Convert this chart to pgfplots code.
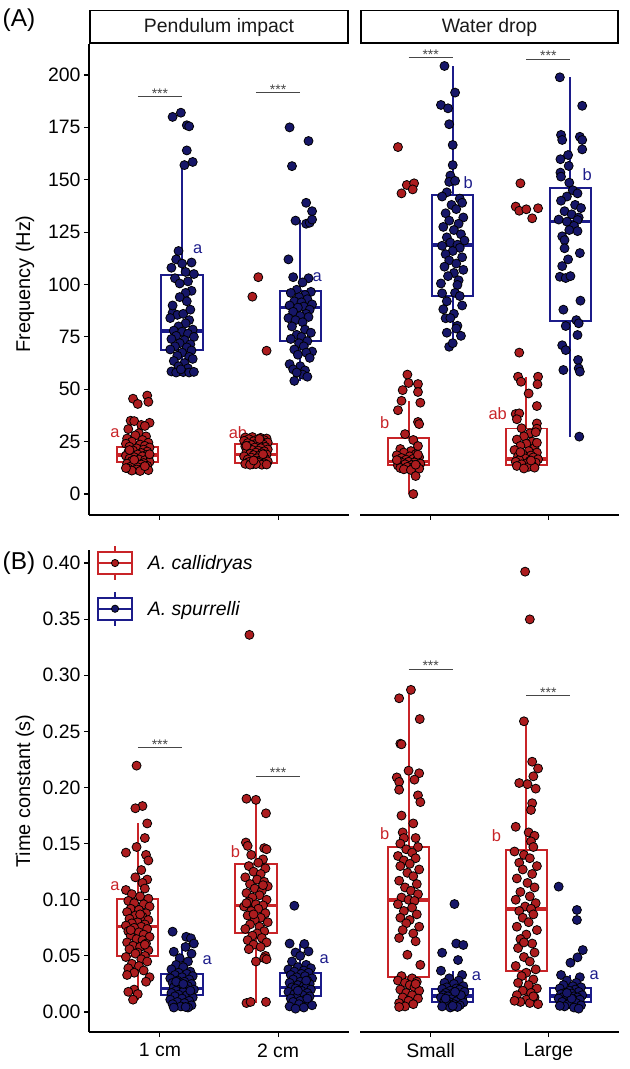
\documentclass[border=0pt]{standalone}
\usepackage{fontspec}
\setmainfont{Liberation Sans}
\usepackage{pgfplots}
\pgfplotsset{compat=1.18}
\usepackage{pgfplotstable}

\definecolor{redline}{RGB}{200,36,40}
\definecolor{redpt}{RGB}{172,28,30}
\definecolor{blueline}{RGB}{28,28,138}
\definecolor{bluept}{RGB}{22,22,104}
\definecolor{sigcol}{RGB}{70,70,70}

% ---------------- Frequency (Hz), jittered observations: dx = horizontal jitter ----------------
\pgfplotstableread{
dx y
0.08 47.0
-0.04 45.5
0.09 44.0
0.00 43.0
-0.06 35.0
-0.03 34.8
0.10 34.0
0.03 33.0
0.06 32.5
-0.08 31.0
0.01 29.0
-0.02 28.0
0.07 27.5
-0.09 26.5
0.04 25.8
-0.05 25.0
0.09 24.5
-0.10 24.0
0.02 23.6
0.06 23.0
-0.07 22.6
0.10 22.2
-0.01 21.8
0.05 21.2
-0.04 20.8
0.08 20.3
-0.08 20.0
0.03 19.6
-0.06 19.2
0.00 18.9
0.07 18.6
-0.10 18.3
0.04 18.0
-0.03 17.6
0.09 17.2
-0.07 16.9
0.01 16.5
0.06 16.1
-0.05 15.8
0.10 15.4
-0.02 15.1
0.05 14.8
-0.09 14.5
0.03 14.1
-0.04 13.8
0.08 13.5
-0.06 13.1
0.00 12.8
0.07 12.5
-0.08 12.2
0.04 12.0
-0.01 11.7
0.09 11.4
-0.05 11.2
0.02 11.0
-0.10 12.4
0.06 13.3
-0.03 16.3
0.10 19.0
-0.07 21.0
}\fCalA

\pgfplotstableread{
dx y
-0.08 180.0
-0.01 182.0
0.04 176.0
0.06 175.5
0.04 164.0
0.09 158.5
0.02 157.0
-0.03 116.0
-0.05 112.0
0.00 110.0
0.08 110.5
-0.09 108.0
0.03 106.0
0.10 105.0
-0.06 103.0
0.05 101.5
-0.02 100.5
0.08 97.0
0.03 96.0
-0.08 86.5
-0.04 85.5
0.01 86.0
-0.10 84.0
0.06 83.0
0.03 81.5
-0.03 80.0
0.09 78.5
-0.07 78.0
0.00 77.5
0.05 76.5
-0.05 75.5
0.10 75.0
-0.09 74.0
0.02 73.5
-0.02 72.0
0.07 71.5
-0.06 70.5
0.04 70.0
-0.10 69.0
0.08 68.5
0.00 67.5
-0.04 66.0
0.06 65.5
0.09 64.5
-0.07 63.5
0.02 62.5
-0.03 61.0
0.05 60.0
-0.09 58.5
-0.05 58.0
0.01 58.2
0.06 58.0
0.10 58.3
-0.01 59.5
0.04 92.0
-0.08 90.0
0.07 88.0
-0.02 94.0
}\fSpuA

\pgfplotstableread{
dx y
0.02 103.5
-0.03 94.2
0.09 68.4
-0.09 27.0
-0.03 27.2
0.04 26.8
0.09 26.5
-0.06 26.2
0.01 26.0
0.07 25.7
-0.10 25.4
-0.02 25.2
0.05 25.0
0.10 24.6
-0.07 24.3
0.00 24.0
0.06 23.7
-0.04 23.4
0.03 23.1
-0.09 22.8
0.08 22.5
-0.01 22.2
0.04 21.9
-0.06 21.6
0.10 21.3
-0.03 21.0
0.02 20.7
0.07 20.4
-0.08 20.1
0.00 19.8
0.05 19.5
-0.05 19.2
0.09 18.9
-0.02 18.6
0.03 18.3
-0.10 18.0
0.06 17.7
-0.04 17.4
0.01 17.1
0.08 16.8
-0.07 16.5
0.04 16.2
-0.01 15.9
0.10 15.6
-0.06 15.3
0.02 15.0
0.07 14.7
-0.09 14.4
-0.03 14.2
0.05 14.0
0.00 14.3
0.09 14.1
-0.05 14.0
0.03 26.3
-0.08 23.0
0.06 19.0
-0.02 16.0
}\fCalB

\pgfplotstableread{
dx y
-0.09 175.0
0.07 168.5
-0.07 156.5
0.05 139.0
0.10 135.0
-0.04 130.5
0.05 129.0
0.08 129.5
0.10 131.0
-0.10 112.0
-0.06 103.5
0.07 103.0
0.02 101.0
-0.03 97.5
0.09 96.5
-0.08 96.0
0.04 95.0
-0.01 94.0
0.06 93.0
-0.05 92.0
0.01 91.5
0.10 90.5
-0.09 90.0
0.03 89.5
-0.02 89.0
0.08 88.0
-0.06 87.0
0.05 86.0
0.00 85.0
-0.10 84.0
0.07 84.5
-0.04 83.0
0.02 82.0
-0.07 80.0
0.04 78.5
0.09 77.0
-0.03 76.0
0.01 75.0
-0.08 74.0
0.06 73.0
-0.01 72.0
0.03 70.5
-0.05 69.0
0.10 68.0
0.05 67.5
-0.02 66.5
0.08 65.0
-0.09 62.0
0.00 61.0
-0.06 59.5
0.04 59.0
0.02 57.0
-0.03 58.0
0.06 56.0
-0.05 54.0
}\fSpuB

\pgfplotstableread{
dx y
-0.09 165.6
-0.015 147.5
0.047 148.3
0.035 145.4
-0.06 143.5
-0.01 57.0
0.00 53.0
0.08 52.5
-0.05 49.6
0.08 48.7
-0.06 44.5
0.10 43.6
-0.09 40.0
0.08 34.4
0.09 33.4
-0.03 28.6
0.04 25.8
0.08 22.9
-0.07 21.5
0.02 20.5
-0.04 19.8
0.06 19.0
-0.10 18.5
0.01 18.0
0.09 17.6
-0.06 17.2
0.04 16.8
-0.02 16.4
0.07 16.0
-0.08 15.7
0.00 15.4
0.05 15.1
-0.05 14.8
0.10 14.5
-0.03 14.2
0.03 13.9
-0.09 13.6
0.07 13.3
-0.01 13.0
0.04 12.7
-0.07 12.4
0.09 12.1
-0.04 11.8
0.02 11.5
0.06 14.0
-0.10 16.2
0.08 18.8
0.06 8.6
0.04 0.0
}\fCalC

\pgfplotstableread{
dx y
-0.07 204.3
0.02 191.6
-0.10 185.7
-0.04 184.1
-0.03 176.5
0.00 166.6
0.00 157.0
-0.02 152.0
-0.03 149.0
0.02 149.5
-0.05 144.0
-0.09 142.0
0.06 141.0
0.08 139.0
-0.01 138.0
0.03 136.0
-0.06 134.0
0.09 132.0
-0.03 130.5
0.05 129.0
-0.08 127.5
0.01 126.0
0.07 124.0
-0.05 122.5
0.10 121.0
-0.02 120.0
0.04 119.0
-0.09 118.5
0.06 117.5
0.00 116.0
-0.06 114.5
0.08 113.0
-0.03 111.5
0.03 110.0
-0.07 108.5
0.09 107.0
0.01 105.5
-0.04 104.0
0.05 102.0
-0.10 100.5
0.04 99.8
0.02 96.0
-0.09 95.8
0.06 94.5
-0.05 92.0
0.08 90.0
-0.08 88.2
0.01 86.0
-0.06 83.9
-0.02 84.0
0.04 80.3
0.03 79.0
-0.05 77.0
0.07 75.5
-0.03 70.3
0.00 72.0
}\fSpuC

\pgfplotstableread{
dx y
-0.05 148.3
-0.09 137.2
-0.06 135.2
0.00 135.9
0.05 131.6
0.10 136.4
-0.06 67.5
-0.07 56.0
0.10 56.0
-0.045 53.6
0.095 52.4
0.02 48.0
0.09 42.0
-0.09 38.2
-0.06 38.5
-0.08 35.7
0.09 33.7
-0.04 31.4
0.09 31.2
0.03 29.0
0.08 29.5
-0.02 27.5
-0.08 26.0
0.05 25.0
0.00 24.0
-0.05 23.0
0.07 22.0
-0.10 21.0
0.02 20.5
0.09 19.8
-0.03 19.0
0.04 18.4
-0.07 18.0
0.06 17.5
-0.01 17.0
0.10 16.6
-0.06 16.2
0.03 15.8
-0.09 15.4
0.08 15.0
0.00 14.6
-0.04 14.2
0.05 13.8
-0.08 13.4
0.02 13.0
0.07 12.6
-0.02 12.2
0.04 16.0
-0.05 20.0
0.09 24.5
}\fCalD

\pgfplotstableread{
dx y
-0.09 198.9
0.10 185.3
-0.08 171.4
-0.07 169.0
0.08 170.5
0.10 169.0
0.10 164.5
-0.085 159.8
-0.02 161.8
-0.015 156.6
-0.085 153.4
-0.08 151.5
-0.01 148.6
0.02 145.0
0.06 143.5
-0.03 142.0
-0.08 140.0
0.04 138.0
0.09 136.5
-0.05 135.0
0.01 133.5
0.07 132.0
-0.10 131.0
0.06 130.8
-0.03 130.0
0.03 128.0
-0.01 126.0
0.06 125.5
-0.07 123.0
-0.05 121.2
-0.05 117.3
0.08 115.0
-0.02 112.0
-0.07 108.8
-0.09 103.7
-0.04 103.1
0.00 104.0
0.085 92.3
-0.06 88.0
0.05 83.0
-0.04 80.2
0.07 81.5
0.06 75.9
-0.07 71.0
-0.04 68.7
0.065 64.0
-0.06 59.2
0.07 60.0
0.08 58.4
0.075 27.4
}\fSpuD

% ---------------- Time constant (s) ----------------
\pgfplotstableread{
dx y
-0.01 0.2195
0.04 0.1835
-0.02 0.1815
0.08 0.168
0.06 0.155
-0.01 0.147
-0.10 0.142
0.07 0.140
0.09 0.135
0.03 0.1265
-0.02 0.120
0.08 0.118
0.04 0.115
-0.10 0.1087
0.06 0.110
-0.05 0.105
0.02 0.103
0.09 0.101
-0.08 0.099
-0.03 0.097
0.05 0.096
0.10 0.094
-0.06 0.092
0.01 0.091
-0.09 0.089
0.07 0.088
-0.02 0.086
0.04 0.085
-0.07 0.083
0.09 0.082
0.00 0.080
-0.05 0.079
0.06 0.078
-0.10 0.077
0.03 0.076
-0.03 0.075
0.08 0.074
-0.08 0.072
0.01 0.071
0.05 0.069
-0.06 0.068
0.10 0.067
-0.01 0.065
0.04 0.064
-0.09 0.062
0.07 0.061
-0.04 0.059
0.02 0.058
-0.07 0.056
0.09 0.055
0.00 0.053
-0.02 0.052
0.06 0.050
-0.10 0.049
0.03 0.047
0.08 0.045
-0.05 0.043
0.01 0.041
-0.08 0.039
0.05 0.037
-0.03 0.035
-0.09 0.033
0.10 0.031
0.07 0.027
-0.03 0.020
-0.08 0.018
0.00 0.016
-0.04 0.011
0.06 0.060
-0.06 0.073
0.02 0.087
}\tCalA

\pgfplotstableread{
dx y
-0.08 0.0716
0.035 0.067
0.075 0.0657
0.10 0.061
-0.07 0.0537
0.03 0.058
0.08 0.052
-0.02 0.048
0.05 0.045
-0.05 0.042
0.01 0.040
-0.09 0.038
0.07 0.036
-0.03 0.035
0.04 0.034
-0.06 0.033
0.09 0.032
0.00 0.031
-0.10 0.030
0.06 0.029
-0.04 0.028
0.02 0.027
-0.08 0.026
0.08 0.025
-0.01 0.024
0.05 0.023
-0.07 0.022
0.03 0.021
-0.02 0.0205
0.10 0.020
-0.05 0.019
0.01 0.018
-0.09 0.017
0.07 0.016
-0.03 0.0155
0.04 0.015
-0.06 0.014
0.09 0.013
0.00 0.012
-0.10 0.011
0.06 0.010
-0.04 0.009
0.02 0.008
-0.08 0.007
0.08 0.006
-0.01 0.005
0.05 0.004
-0.07 0.004
0.03 0.0045
-0.05 0.027
0.07 0.019
0.01 0.025
}\tSpuA

\pgfplotstableread{
dx y
-0.055 0.336
-0.08 0.190
0.00 0.189
0.085 0.177
-0.085 0.151
-0.07 0.148
0.07 0.146
0.09 0.145
0.06 0.136
-0.04 0.140
0.02 0.133
-0.06 0.130
0.08 0.128
-0.02 0.125
0.04 0.123
-0.09 0.120
0.01 0.118
0.07 0.116
-0.05 0.114
0.10 0.112
-0.01 0.110
0.05 0.108
-0.08 0.106
0.03 0.104
-0.03 0.102
0.09 0.100
-0.06 0.098
0.00 0.096
0.06 0.095
-0.10 0.094
0.02 0.092
-0.04 0.090
0.08 0.088
-0.07 0.086
0.04 0.084
-0.01 0.082
0.10 0.080
-0.05 0.078
0.03 0.076
-0.09 0.074
0.07 0.072
0.01 0.070
-0.03 0.068
0.05 0.066
-0.07 0.064
0.09 0.062
-0.02 0.060
0.04 0.058
-0.06 0.056
0.08 0.050
0.00 0.045
0.07 0.048
0.09 0.047
-0.08 0.008
-0.045 0.009
0.085 0.009
-0.08 0.097
0.06 0.113
-0.02 0.087
}\tCalB

\pgfplotstableread{
dx y
-0.05 0.0947
-0.09 0.061
0.035 0.0606
-0.04 0.053
0.07 0.054
0.00 0.050
-0.07 0.045
0.05 0.042
-0.02 0.040
0.09 0.039
-0.10 0.038
0.03 0.037
-0.05 0.036
0.07 0.035
0.01 0.034
-0.08 0.033
0.04 0.032
-0.03 0.031
0.10 0.030
-0.06 0.029
0.06 0.028
0.00 0.027
-0.09 0.026
0.08 0.025
-0.02 0.024
0.03 0.023
-0.07 0.022
0.05 0.0215
-0.04 0.021
0.09 0.020
0.01 0.019
-0.10 0.018
0.06 0.017
-0.05 0.016
0.02 0.015
0.08 0.014
-0.03 0.013
-0.08 0.012
0.04 0.011
0.00 0.010
-0.06 0.009
0.07 0.008
-0.01 0.007
0.10 0.006
-0.09 0.005
0.03 0.004
-0.04 0.003
0.05 0.028
-0.02 0.019
0.06 0.012
}\tSpuB

\pgfplotstableread{
dx y
0.02 0.287
-0.08 0.2795
0.095 0.261
-0.07 0.239
-0.06 0.2385
0.00 0.215
0.09 0.2127
-0.10 0.209
0.05 0.207
-0.08 0.205
-0.08 0.198
0.08 0.193
0.10 0.187
-0.06 0.175
0.04 0.168
-0.05 0.160
-0.04 0.155
0.06 0.155
-0.07 0.150
0.08 0.147
-0.02 0.145
0.03 0.142
-0.09 0.139
0.06 0.137
-0.04 0.135
0.01 0.132
-0.07 0.130
0.09 0.127
-0.01 0.124
0.04 0.121
-0.08 0.117
0.07 0.114
-0.03 0.111
0.02 0.108
0.08 0.105
-0.06 0.102
0.00 0.100
0.05 0.099
-0.09 0.096
0.03 0.093
-0.04 0.090
0.07 0.087
-0.07 0.084
0.01 0.082
-0.02 0.079
0.09 0.076
-0.05 0.073
0.04 0.070
-0.08 0.066
0.06 0.063
-0.01 0.051
0.10 0.042
-0.06 0.032
0.03 0.030
-0.09 0.028
0.07 0.027
-0.03 0.026
0.01 0.024
0.05 0.022
-0.07 0.020
0.09 0.019
-0.02 0.017
0.03 0.015
-0.05 0.013
0.08 0.012
0.00 0.010
-0.08 0.008
0.04 0.007
-0.03 0.005
-0.08 0.0045
0.06 0.025
}\tCalC

\pgfplotstableread{
dx y
0.015 0.0962
0.03 0.061
0.09 0.0597
-0.09 0.0528
0.045 0.0463
-0.10 0.0368
0.08 0.033
-0.03 0.030
0.05 0.028
-0.07 0.026
0.01 0.025
0.09 0.023
-0.05 0.022
0.03 0.021
-0.09 0.0205
0.06 0.020
-0.02 0.019
0.10 0.018
-0.06 0.017
0.00 0.0165
0.04 0.016
-0.08 0.015
0.07 0.0145
-0.04 0.014
0.02 0.0135
-0.10 0.013
0.08 0.012
-0.01 0.0115
0.05 0.011
-0.07 0.010
0.03 0.0095
-0.03 0.009
0.09 0.0085
-0.05 0.008
0.01 0.007
0.06 0.006
-0.09 0.005
0.04 0.0045
-0.02 0.004
0.00 0.0055
0.07 0.015
-0.06 0.012
0.02 0.018
}\tSpuC

\pgfplotstableread{
dx y
-0.01 0.3923
0.03 0.3498
-0.02 0.259
0.05 0.223
0.10 0.217
0.06 0.210
-0.06 0.204
0.01 0.203
0.08 0.199
0.05 0.186
0.04 0.180
-0.09 0.165
0.02 0.160
0.07 0.157
0.04 0.152
-0.10 0.143
0.06 0.147
-0.02 0.140
0.03 0.137
-0.06 0.133
0.09 0.130
-0.03 0.127
0.05 0.123
-0.08 0.119
0.01 0.115
0.07 0.111
-0.05 0.107
0.03 0.103
-0.09 0.100
0.08 0.097
-0.01 0.094
0.04 0.092
-0.06 0.090
0.06 0.087
-0.03 0.084
0.02 0.080
-0.08 0.076
0.09 0.073
0.00 0.069
-0.05 0.065
0.05 0.061
-0.07 0.057
0.07 0.053
-0.02 0.049
0.03 0.045
-0.09 0.041
0.08 0.038
0.00 0.035
-0.04 0.032
0.06 0.029
-0.07 0.026
0.02 0.024
0.09 0.021
-0.03 0.019
0.04 0.017
-0.08 0.015
0.07 0.013
0.00 0.011
-0.05 0.009
0.03 0.008
0.10 0.007
-0.10 0.010
0.06 0.014
-0.02 0.062
}\tCalD

\pgfplotstableread{
dx y
-0.10 0.1117
0.055 0.0909
0.055 0.0820
0.105 0.0552
0.06 0.0487
0.00 0.0439
-0.08 0.033
0.08 0.031
-0.03 0.028
0.05 0.026
-0.06 0.024
0.02 0.023
0.09 0.022
-0.09 0.021
0.04 0.020
-0.01 0.019
0.07 0.018
-0.05 0.017
0.01 0.0165
-0.08 0.016
0.10 0.015
-0.03 0.0145
0.03 0.014
-0.06 0.0135
0.06 0.013
-0.10 0.012
0.02 0.0115
0.08 0.011
-0.04 0.010
0.00 0.0095
-0.07 0.009
0.05 0.008
-0.02 0.007
0.09 0.006
-0.05 0.005
0.03 0.004
0.07 0.003
-0.09 0.0055
0.01 0.012
-0.03 0.017
}\tSpuD

\newcommand{\tickfont}{\fontsize{19.5}{22}\selectfont}

% box-and-whisker: #1 style, #2 left, #3 centre, #4 right,
% #5 lower whisker, #6 Q1, #7 median, #8 Q3, #9 upper whisker
\newcommand{\gbox}[9]{%
  \addplot[#1] coordinates {(#3,#5) (#3,#6)};
  \addplot[#1] coordinates {(#3,#8) (#3,#9)};
  \addplot[#1] coordinates {(#2,#6) (#4,#6) (#4,#8) (#2,#8) (#2,#6) (#4,#6)};
  \addplot[#1, line width=3.3bp] coordinates {(#2,#7) (#4,#7)};
}

\pgfplotsset{
  panel/.style={
    scale only axis, width=260bp,
    xmin=0.4, xmax=2.6, xtick={1,2},
    tick align=outside, major tick length=5bp,
    tick style={black, line width=1.1bp},
    axis line style={black, line width=1.1bp, -},
    ticklabel style={font=\tickfont, text=black},
    xticklabel style={yshift=-3bp},
    /pgf/number format/assume math mode=true,
    clip=false,
  },
  leftpanel/.style={panel, axis x line*=bottom, axis y line*=left},
  rightpanel/.style={panel, axis x line*=bottom, axis y line=none},
  freq/.style={height=471bp, ymin=-10, ymax=214.8, ytick={0,25,50,75,100,125,150,175,200}, xticklabels={}},
  tcon/.style={height=482bp, ymin=-0.0178, ymax=0.4116,
    ytick={0,0.05,0.1,0.15,0.2,0.25,0.3,0.35,0.4}, scaled y ticks=false,
    yticklabel style={/pgf/number format/.cd, fixed, fixed zerofill, precision=2, assume math mode=true}},
  rbox/.style={draw=redline, line width=1.9bp, solid, no marks, line join=miter},
  bbox/.style={draw=blueline, line width=1.9bp, solid, no marks, line join=miter},
  rpts/.style={only marks, mark=*, mark size=4.5bp, mark options={fill=redpt, draw=black, line width=0.8bp}},
  bpts/.style={only marks, mark=*, mark size=4.5bp, mark options={fill=bluept, draw=black, line width=0.8bp}},
  sig/.style={draw=sigcol, line width=0.9bp, no marks},
}
\tikzset{
  siglab/.style={font=\fontsize{14}{16}\selectfont, text=sigcol, anchor=base, yshift=-1.5bp, inner sep=0pt},
  rlet/.style={font=\fontsize{16.5}{18}\selectfont, text=redline, inner sep=0pt},
  blet/.style={font=\fontsize{16.5}{18}\selectfont, text=blueline, inner sep=0pt},
  strip/.style={draw=black, line width=1.6bp},
  striptxt/.style={font=\fontsize{19.5}{22}\selectfont, text=black!90},
}

\begin{document}
\begin{tikzpicture}
\useasboundingbox (0bp,0bp) rectangle (630bp,1069bp);

% ---------- (A) Frequency, pendulum impact ----------
\begin{axis}[leftpanel, freq, at={(89bp,554bp)}, anchor=south west]
\gbox{rbox}{0.6375}{0.8125}{0.9875}{11}{15.1}{18.6}{22.6}{33}
\gbox{bbox}{1.0125}{1.1875}{1.3625}{58}{68.7}{77.8}{104.5}{157}
\gbox{rbox}{1.6375}{1.8125}{1.9875}{14}{14.9}{18.9}{23.7}{27.2}
\gbox{bbox}{2.0125}{2.1875}{2.3625}{54}{73.2}{88.9}{97.0}{131}
\addplot[rpts] table[x expr=\thisrow{dx}+0.8125, y=y] {\fCalA};
\addplot[bpts] table[x expr=\thisrow{dx}+1.1875, y=y] {\fSpuA};
\addplot[rpts] table[x expr=\thisrow{dx}+1.8125, y=y] {\fCalB};
\addplot[bpts] table[x expr=\thisrow{dx}+2.1875, y=y] {\fSpuB};
\addplot[sig] coordinates {(0.8125,189.6) (1.1875,189.6)};
\addplot[sig] coordinates {(1.8125,191.6) (2.1875,191.6)};
\node[siglab] at (axis cs:1,189.6) {***};
\node[siglab] at (axis cs:2,191.6) {***};
\node[rlet] at (axis cs:0.62,29.1) {a};
\node[blet] at (axis cs:1.32,116.8) {a};
\node[rlet] at (axis cs:1.66,29.1) {ab};
\node[blet] at (axis cs:2.33,103.6) {a};
\end{axis}

% ---------- (A) Frequency, water drop ----------
\begin{axis}[rightpanel, freq, width=259bp, at={(360bp,554bp)}, anchor=south west]
\gbox{rbox}{0.6375}{0.8125}{0.9875}{0}{13.8}{15.4}{26.9}{44.5}
\gbox{bbox}{1.0125}{1.1875}{1.3625}{70.3}{94.5}{118.9}{142.7}{204.3}
\gbox{rbox}{1.6375}{1.8125}{1.9875}{12.2}{13.8}{16.7}{31.3}{56}
\gbox{bbox}{2.0125}{2.1875}{2.3625}{27.4}{82.7}{130.0}{145.9}{198.9}
\addplot[rpts] table[x expr=\thisrow{dx}+0.8125, y=y] {\fCalC};
\addplot[bpts] table[x expr=\thisrow{dx}+1.1875, y=y] {\fSpuC};
\addplot[rpts] table[x expr=\thisrow{dx}+1.8125, y=y] {\fCalD};
\addplot[bpts] table[x expr=\thisrow{dx}+2.1875, y=y] {\fSpuD};
\addplot[sig] coordinates {(0.8125,208.3) (1.1875,208.3)};
\addplot[sig] coordinates {(1.8125,207.5) (2.1875,207.5)};
\node[siglab] at (axis cs:1,208.3) {***};
\node[siglab] at (axis cs:2,207.5) {***};
\node[rlet] at (axis cs:0.61,33.9) {b};
\node[blet] at (axis cs:1.32,148.6) {b};
\node[rlet] at (axis cs:1.57,38.2) {ab};
\node[blet] at (axis cs:2.33,152.3) {b};
\end{axis}

% ---------- (B) Time constant, pendulum impact ----------
\begin{axis}[leftpanel, tcon, at={(89bp,37bp)}, anchor=south west,
  xticklabels={1 cm, 2 cm},
  legend style={at={(0,1)}, anchor=north west, xshift=8bp, yshift=5bp, draw=none, fill=none,
    font=\fontsize{19.5}{22}\selectfont, row sep=10bp, inner sep=0pt,
    nodes={inner sep=2bp}, /tikz/every odd column/.append style={column sep=13bp}},
  legend cell align=left]
\addlegendimage{legend image code/.code={
  \draw[redline, line width=1.7bp] (0bp,-11bp) rectangle (34bp,11bp);
  \draw[redline, line width=1.7bp] (0bp,0bp) -- (34bp,0bp);
  \draw[redline, line width=1.7bp] (17bp,11bp) -- (17bp,17bp) (17bp,-11bp) -- (17bp,-17bp);
  \filldraw[fill=redpt, draw=black, line width=0.8bp] (17bp,0bp) circle (3.6bp);}}
\addlegendentry{\textit{A. callidryas}}
\addlegendimage{legend image code/.code={
  \draw[blueline, line width=1.7bp] (0bp,-11bp) rectangle (34bp,11bp);
  \draw[blueline, line width=1.7bp] (0bp,0bp) -- (34bp,0bp);
  \draw[blueline, line width=1.7bp] (17bp,11bp) -- (17bp,17bp) (17bp,-11bp) -- (17bp,-17bp);
  \filldraw[fill=bluept, draw=black, line width=0.8bp] (17bp,0bp) circle (3.6bp);}}
\addlegendentry{\textit{A. spurrelli}}
\gbox{rbox}{0.6375}{0.8125}{0.9875}{0.011}{0.0502}{0.076}{0.1004}{0.168}
\gbox{bbox}{1.0125}{1.1875}{1.3625}{0.004}{0.0151}{0.0211}{0.0339}{0.061}
\gbox{rbox}{1.6375}{1.8125}{1.9875}{0.008}{0.0701}{0.0947}{0.1318}{0.190}
\gbox{bbox}{2.0125}{2.1875}{2.3625}{0.003}{0.0145}{0.0217}{0.0345}{0.0606}
\addplot[rpts] table[x expr=\thisrow{dx}+0.8125, y=y] {\tCalA};
\addplot[bpts] table[x expr=\thisrow{dx}+1.1875, y=y] {\tSpuA};
\addplot[rpts] table[x expr=\thisrow{dx}+1.8125, y=y] {\tCalB};
\addplot[bpts] table[x expr=\thisrow{dx}+2.1875, y=y] {\tSpuB};
\addplot[sig] coordinates {(0.8125,0.2355) (1.1875,0.2355)};
\addplot[sig] coordinates {(1.8125,0.210) (2.1875,0.210)};
\node[siglab] at (axis cs:1,0.2355) {***};
\node[siglab] at (axis cs:2,0.210) {***};
\node[rlet] at (axis cs:0.62,0.112) {a};
\node[blet] at (axis cs:1.40,0.046) {a};
\node[rlet] at (axis cs:1.64,0.143) {b};
\node[blet] at (axis cs:2.39,0.047) {a};
\end{axis}

% ---------- (B) Time constant, water drop ----------
\begin{axis}[rightpanel, tcon, width=259bp, at={(360bp,37bp)}, anchor=south west,
  xticklabels={Small, Large}]
\gbox{rbox}{0.6375}{0.8125}{0.9875}{0.0045}{0.0315}{0.0998}{0.1467}{0.287}
\gbox{bbox}{1.0125}{1.1875}{1.3625}{0.004}{0.0086}{0.0143}{0.0205}{0.0368}
\gbox{rbox}{1.6375}{1.8125}{1.9875}{0.007}{0.0365}{0.0918}{0.1443}{0.259}
\gbox{bbox}{2.0125}{2.1875}{2.3625}{0.003}{0.0092}{0.0143}{0.0211}{0.033}
\addplot[rpts] table[x expr=\thisrow{dx}+0.8125, y=y] {\tCalC};
\addplot[bpts] table[x expr=\thisrow{dx}+1.1875, y=y] {\tSpuC};
\addplot[rpts] table[x expr=\thisrow{dx}+1.8125, y=y] {\tCalD};
\addplot[bpts] table[x expr=\thisrow{dx}+2.1875, y=y] {\tSpuD};
\addplot[sig] coordinates {(0.8125,0.3056) (1.1875,0.3056)};
\addplot[sig] coordinates {(1.8125,0.2818) (2.1875,0.2818)};
\node[siglab] at (axis cs:1,0.3056) {***};
\node[siglab] at (axis cs:2,0.2818) {***};
\node[rlet] at (axis cs:0.61,0.159) {b};
\node[blet] at (axis cs:1.39,0.032) {a};
\node[rlet] at (axis cs:1.56,0.157) {b};
\node[blet] at (axis cs:2.39,0.033) {a};
\end{axis}

% ---------- facet strips ----------
\draw[strip] (89.8bp,1025.8bp) rectangle (348.2bp,1058.5bp);
\node[striptxt] at (219bp,1042bp) {Pendulum impact};
\draw[strip] (360.8bp,1025.8bp) rectangle (618.2bp,1058.5bp);
\node[striptxt] at (489.5bp,1042bp) {Water drop};

% ---------- axis titles and panel tags ----------
\node[rotate=90, font=\fontsize{20}{22}\selectfont] at (25bp,785bp) {Frequency (Hz)};
\node[rotate=90, font=\fontsize{20}{22}\selectfont] at (25bp,278bp) {Time constant (s)};
\node[font=\fontsize{24.5}{27}\selectfont] at (19bp,1049bp) {(A)};
\node[font=\fontsize{24.5}{27}\selectfont] at (19bp,506bp) {(B)};
\end{tikzpicture}
\end{document}
